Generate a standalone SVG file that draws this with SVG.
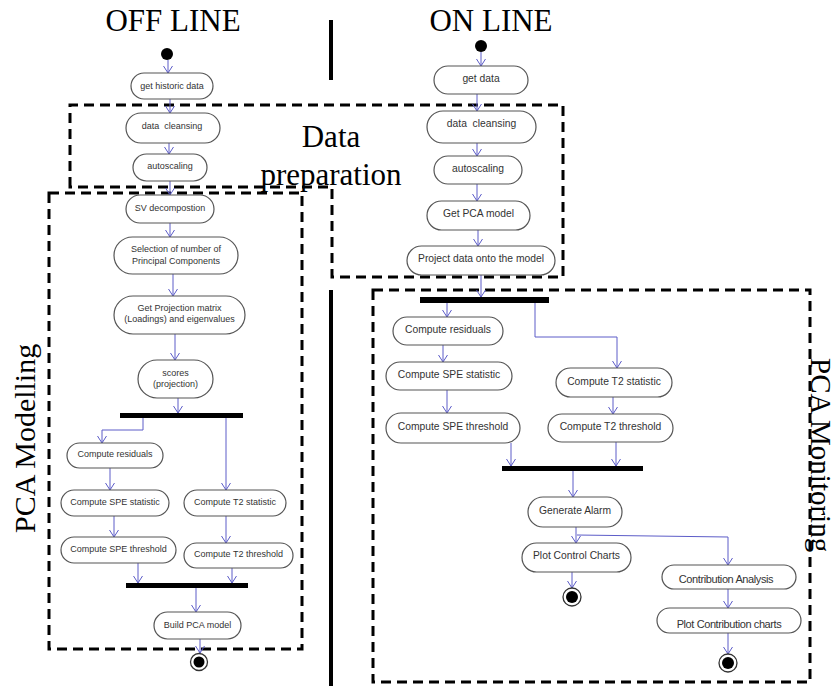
<svg xmlns="http://www.w3.org/2000/svg" width="839" height="686" viewBox="0 0 839 686">
<style>
.title{font-family:"Liberation Serif","Times New Roman",serif;font-size:31px;fill:#000}
.rot{font-family:"Liberation Serif","Times New Roman",serif;font-size:30px;fill:#000}
.rot2{font-family:"Liberation Serif","Times New Roman",serif;font-size:29px;fill:#000}
.node rect{fill:#fff;stroke:#555;stroke-width:1.2}
.t9{font-family:"Liberation Sans",Arial,sans-serif;font-size:9px;fill:#333;text-anchor:middle}
.t10{font-family:"Liberation Sans",Arial,sans-serif;font-size:10.3px;fill:#333;text-anchor:middle}
.t11{font-family:"Liberation Sans",Arial,sans-serif;font-size:11px;fill:#333;text-anchor:middle;letter-spacing:-0.4px}
.dash{fill:none;stroke:#000;stroke-width:3;stroke-dasharray:10 6}
.conn line,.conn polyline{fill:none;stroke:#5c5cc8;stroke-width:1;marker-end:url(#arr)}
.bar{fill:#000}
</style>
<defs>
<marker id="arr" viewBox="-8 -5 9 10" markerWidth="9" markerHeight="10" refX="0" refY="0" markerUnits="userSpaceOnUse" orient="auto">
<path d="M-7,-4.5 L0,0 L-7,4.5" fill="none" stroke="#5c5cc8" stroke-width="1"/>
</marker>
</defs>
<rect width="839" height="686" fill="#fff"/>

<g id="titles">
<text class="title" x="173" y="31" text-anchor="middle">OFF LINE</text>
<text class="title" x="491" y="31" text-anchor="middle">ON LINE</text>
<text class="title" x="331" y="147" text-anchor="middle">Data</text>
<text class="title" x="331" y="185" text-anchor="middle">preparation</text>
<text class="rot" transform="translate(35,533) rotate(-90)">PCA Modelling</text>
<text class="rot2" transform="translate(811,358) rotate(90)">PCA Monitoring</text>
</g>

<g id="separators">
<rect x="329" y="20" width="4" height="60" fill="#000"/>
<rect x="329" y="290" width="4" height="396" fill="#000"/>
</g>

<g id="regions">
<path class="dash" d="M70,187 L70,105 L563,105 L563,277 L332,277 L332,187 Z"/>
<rect class="dash" x="49" y="193" width="253" height="456"/>
<rect class="dash" x="373" y="290" width="437" height="392"/>
</g>

<g id="bars">
<rect class="bar" x="120" y="413" width="123" height="5"/>
<rect class="bar" x="126" y="583" width="122" height="5"/>
<rect class="bar" x="420" y="297" width="129" height="6"/>
<rect class="bar" x="502" y="466" width="141" height="5"/>
</g>

<g id="connectors" class="conn">
<line x1="168" y1="60" x2="168" y2="73"/>
<line x1="170" y1="99" x2="170" y2="113"/>
<line x1="169" y1="143" x2="169" y2="154"/>
<line x1="170" y1="181" x2="170" y2="195"/>
<line x1="170" y1="223" x2="170" y2="237"/>
<line x1="173" y1="274" x2="173" y2="296"/>
<line x1="175" y1="334" x2="175" y2="360"/>
<line x1="178" y1="398" x2="178" y2="413"/>
<polyline points="143,418 143,430 102,430 102,443"/>
<line x1="226" y1="418" x2="226" y2="490"/>
<line x1="110" y1="468" x2="110" y2="490"/>
<line x1="114" y1="516" x2="114" y2="537"/>
<line x1="226" y1="516" x2="226" y2="543"/>
<line x1="138" y1="563" x2="138" y2="583"/>
<line x1="232" y1="568" x2="232" y2="583"/>
<line x1="196" y1="588" x2="196" y2="612"/>
<line x1="200" y1="639" x2="200" y2="653"/>

<line x1="481" y1="52" x2="481" y2="66"/>
<line x1="477" y1="94" x2="477" y2="111"/>
<line x1="477" y1="143" x2="477" y2="156"/>
<line x1="477" y1="184" x2="477" y2="201"/>
<line x1="478" y1="230" x2="478" y2="246"/>
<line x1="481" y1="275" x2="481" y2="297"/>
<line x1="447" y1="303" x2="447" y2="317"/>
<polyline points="535,303 535,337 617,337 617,368"/>
<line x1="443" y1="345" x2="443" y2="362"/>
<line x1="447" y1="390" x2="447" y2="413"/>
<line x1="613" y1="397" x2="613" y2="414"/>
<line x1="511" y1="443" x2="511" y2="466"/>
<line x1="616" y1="442" x2="616" y2="466"/>
<line x1="573" y1="471" x2="573" y2="497"/>
<line x1="576" y1="527" x2="576" y2="543"/>
<polyline points="577,535 728,537 728,565"/>
<line x1="572" y1="572" x2="572" y2="588"/>
<line x1="728" y1="589" x2="728" y2="608"/>
<line x1="728" y1="633" x2="728" y2="654"/>
</g>

<g id="start_off"><circle cx="167" cy="54" r="6" fill="#000"/></g>
<g id="start_on"><circle cx="481" cy="46" r="6" fill="#000"/></g>
<g id="end_off"><circle cx="199" cy="662" r="8.5" fill="#fff" stroke="#333" stroke-width="1.3"/><circle cx="199" cy="662" r="5.5" fill="#000"/></g>
<g id="end_on1"><circle cx="572" cy="597" r="9" fill="#fff" stroke="#333" stroke-width="1.3"/><circle cx="572" cy="597" r="6" fill="#000"/></g>
<g id="end_on2"><circle cx="728" cy="663" r="9" fill="#fff" stroke="#333" stroke-width="1.3"/><circle cx="728" cy="663" r="6" fill="#000"/></g>

<g id="off_get" class="node"><rect x="131" y="73" width="82" height="26" rx="13"/><text class="t9" x="172" y="89">get historic data</text></g>
<g id="off_clean" class="node"><rect x="126" y="113" width="94" height="30" rx="15"/><text class="t9" x="172" y="128.5" xml:space="preserve">data  cleansing</text></g>
<g id="off_auto" class="node"><rect x="133" y="154" width="74" height="27" rx="13.5"/><text class="t9" x="170" y="169">autoscaling</text></g>
<g id="off_sv" class="node"><rect x="126" y="195" width="88" height="28" rx="14"/><text class="t9" x="170" y="210.5">SV decompostion</text></g>
<g id="off_sel" class="node"><rect x="114" y="237" width="124" height="37" rx="18.5"/><text class="t9" x="176" y="251.5">Selection of number of</text><text class="t9" x="176" y="263.5">Principal Components</text></g>
<g id="off_proj" class="node"><rect x="114" y="296" width="131" height="38" rx="19"/><text class="t9" x="179.5" y="310.5">Get Projection matrix</text><text class="t9" x="179.5" y="321.5">(Loadings) and eigenvalues</text></g>
<g id="off_scores" class="node"><rect x="138" y="360" width="75" height="38" rx="19"/><text class="t9" x="175.5" y="375.5">scores</text><text class="t9" x="175.5" y="386.5">(projection)</text></g>
<g id="off_res" class="node"><rect x="67" y="443" width="96" height="25" rx="12.5"/><text class="t9" x="115" y="456.5">Compute residuals</text></g>
<g id="off_spe" class="node"><rect x="61" y="490" width="108" height="26" rx="13"/><text class="t9" x="115" y="504.5">Compute SPE statistic</text></g>
<g id="off_spet" class="node"><rect x="61" y="537" width="115" height="26" rx="13"/><text class="t9" x="118.5" y="551.5">Compute SPE threshold</text></g>
<g id="off_t2s" class="node"><rect x="184" y="490" width="102" height="26" rx="13"/><text class="t9" x="235" y="504.5">Compute T2 statistic</text></g>
<g id="off_t2t" class="node"><rect x="184" y="543" width="109" height="25" rx="12.5"/><text class="t9" x="238.5" y="556.5">Compute T2 threshold</text></g>
<g id="off_build" class="node"><rect x="154" y="612" width="87" height="27" rx="13.5"/><text class="t9" x="197.5" y="627.5">Build PCA model</text></g>

<g id="on_get" class="node"><rect x="434" y="66" width="94" height="28" rx="14"/><text class="t10" x="481" y="81.5">get data</text></g>
<g id="on_clean" class="node"><rect x="427" y="111" width="109" height="32" rx="16"/><text class="t10" x="481.5" y="126.5" xml:space="preserve">data  cleansing</text></g>
<g id="on_auto" class="node"><rect x="434" y="156" width="88" height="28" rx="14"/><text class="t10" x="478" y="171.5">autoscaling</text></g>
<g id="on_pca" class="node"><rect x="427" y="201" width="103" height="29" rx="14.5"/><text class="t10" x="478.5" y="216.5">Get PCA model</text></g>
<g id="on_proj" class="node"><rect x="407" y="246" width="148" height="29" rx="14.5"/><text class="t10" x="481" y="261.5">Project data onto the model</text></g>
<g id="on_res" class="node"><rect x="393" y="317" width="110" height="28" rx="14"/><text class="t10" x="448" y="332.5">Compute residuals</text></g>
<g id="on_spe" class="node"><rect x="386" y="362" width="126" height="28" rx="14"/><text class="t10" x="449" y="377.5">Compute SPE statistic</text></g>
<g id="on_spet" class="node"><rect x="386" y="413" width="134" height="30" rx="15"/><text class="t10" x="453" y="429.5">Compute SPE threshold</text></g>
<g id="on_t2s" class="node"><rect x="556" y="368" width="116" height="29" rx="14.5"/><text class="t10" x="614" y="384.5">Compute T2 statistic</text></g>
<g id="on_t2t" class="node"><rect x="548" y="414" width="125" height="28" rx="14"/><text class="t10" x="610.5" y="429.5">Compute T2 threshold</text></g>
<g id="on_alarm" class="node"><rect x="528" y="497" width="94" height="30" rx="15"/><text class="t10" x="575" y="513.5">Generate Alarm</text></g>
<g id="on_plot" class="node"><rect x="522" y="543" width="109" height="29" rx="14.5"/><text class="t10" x="576.5" y="558.5">Plot Control Charts</text></g>
<g id="on_contrib" class="node"><rect x="662" y="565" width="134" height="24" rx="12"/><text class="t11" x="726" y="583">Contribution Analysis</text></g>
<g id="on_plotc" class="node"><rect x="657" y="608" width="144" height="25" rx="12.5"/><text class="t11" x="729" y="627.5">Plot Contribution charts</text></g>
</svg>
